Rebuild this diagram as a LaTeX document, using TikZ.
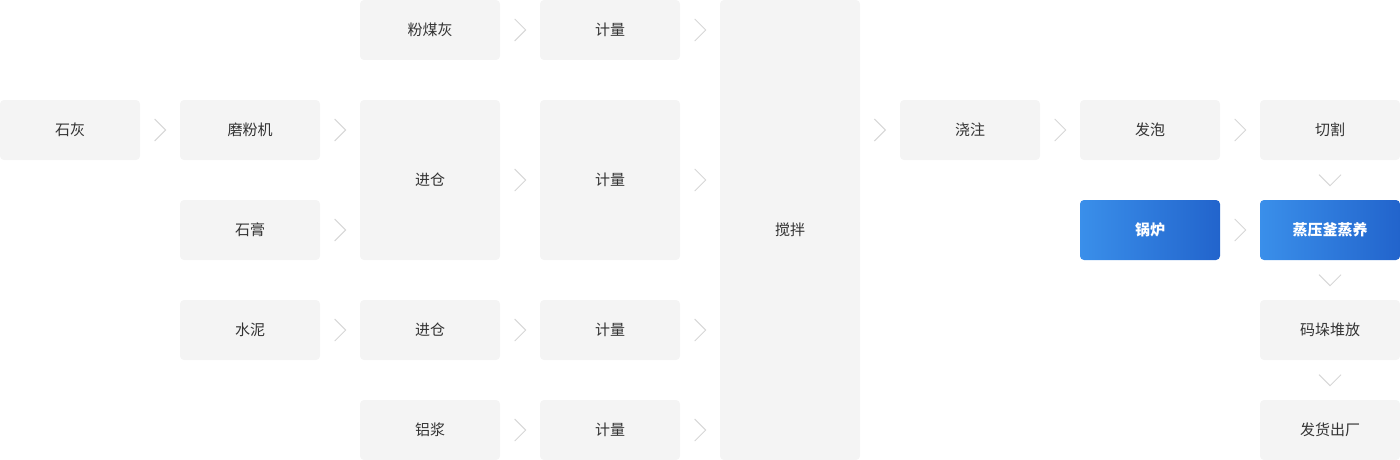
\documentclass[tikz,border=0pt]{standalone}
\usepackage{fontspec}
\setmainfont{Noto Sans CJK SC}
\usepackage{tikz}
\usetikzlibrary{positioning}

\definecolor{boxgray}{HTML}{F4F4F4}
\definecolor{chevgray}{HTML}{D6D6D6}
\definecolor{txtgray}{HTML}{333333}
\definecolor{blueA}{HTML}{3A8FEA}
\definecolor{blueB}{HTML}{2264CC}

\begin{document}
\begin{tikzpicture}[x=1pt,y=-1pt,
	step box/.style={rectangle,rounded corners=4pt,fill=boxgray,text=txtgray,minimum width=140pt,minimum height=60pt,inner sep=0pt,font=\fontsize{15}{18}\selectfont},
	tall box/.style={step box,minimum height=160pt},
	hot box/.style={step box,fill=none,left color=blueA,right color=blueB,text=white,font=\fontsize{15}{18}\selectfont\bfseries},
	chev/.style={draw=chevgray,line width=1pt,fill=none},
	chevr/.pic={\draw[chev] (-5.5,-11) -- (5.5,0) -- (-5.5,11);},
	chevd/.pic={\draw[chev] (-11,-5.5) -- (0,5.5) -- (11,-5.5);}]

	\useasboundingbox (0,0) rectangle (1400,460);

	% raw materials
	\node[step box] (lime) at (70,130) {石灰};
	\node[step box] (mill) at (250,130) {磨粉机};
	\node[step box] (gypsum) at (250,230) {石膏};
	\node[step box] (cement) at (250,330) {水泥};

	% storage
	\node[step box] (flyash) at (430,30) {粉煤灰};
	\node[tall box] (bin1) at (430,180) {进仓};
	\node[step box] (bin2) at (430,330) {进仓};
	\node[step box] (alu) at (430,430) {铝浆};

	% metering
	\node[step box] (meter1) at (610,30) {计量};
	\node[tall box] (meter2) at (610,180) {计量};
	\node[step box] (meter3) at (610,330) {计量};
	\node[step box] (meter4) at (610,430) {计量};

	\node[step box,minimum height=460pt] (mix) at (790,230) {搅拌};

	% casting line
	\node[step box] (pour) at (970,130) {浇注};
	\node[step box] (foam) at (1150,130) {发泡};
	\node[hot box] (boiler) at (1150,230) {锅炉};
	\node[step box] (cut) at (1330,130) {切割};
	\node[hot box] (autoclave) at (1330,230) {蒸压釜蒸养};
	\node[step box] (stack) at (1330,330) {码垛堆放};
	\node[step box] (ship) at (1330,430) {发货出厂};

	% chevrons
	\foreach \n in {lime,mill,gypsum,cement,flyash,bin1,bin2,alu,meter1,meter2,meter3,meter4,pour,foam,boiler}
		\pic at ([xshift=20pt]\n.east) {chevr};
	\pic at ([xshift=-20pt]pour.west) {chevr};
	\foreach \n in {cut,autoclave,stack}
		\pic at ([yshift=-20pt]\n.south) {chevd};
\end{tikzpicture}
\end{document}
